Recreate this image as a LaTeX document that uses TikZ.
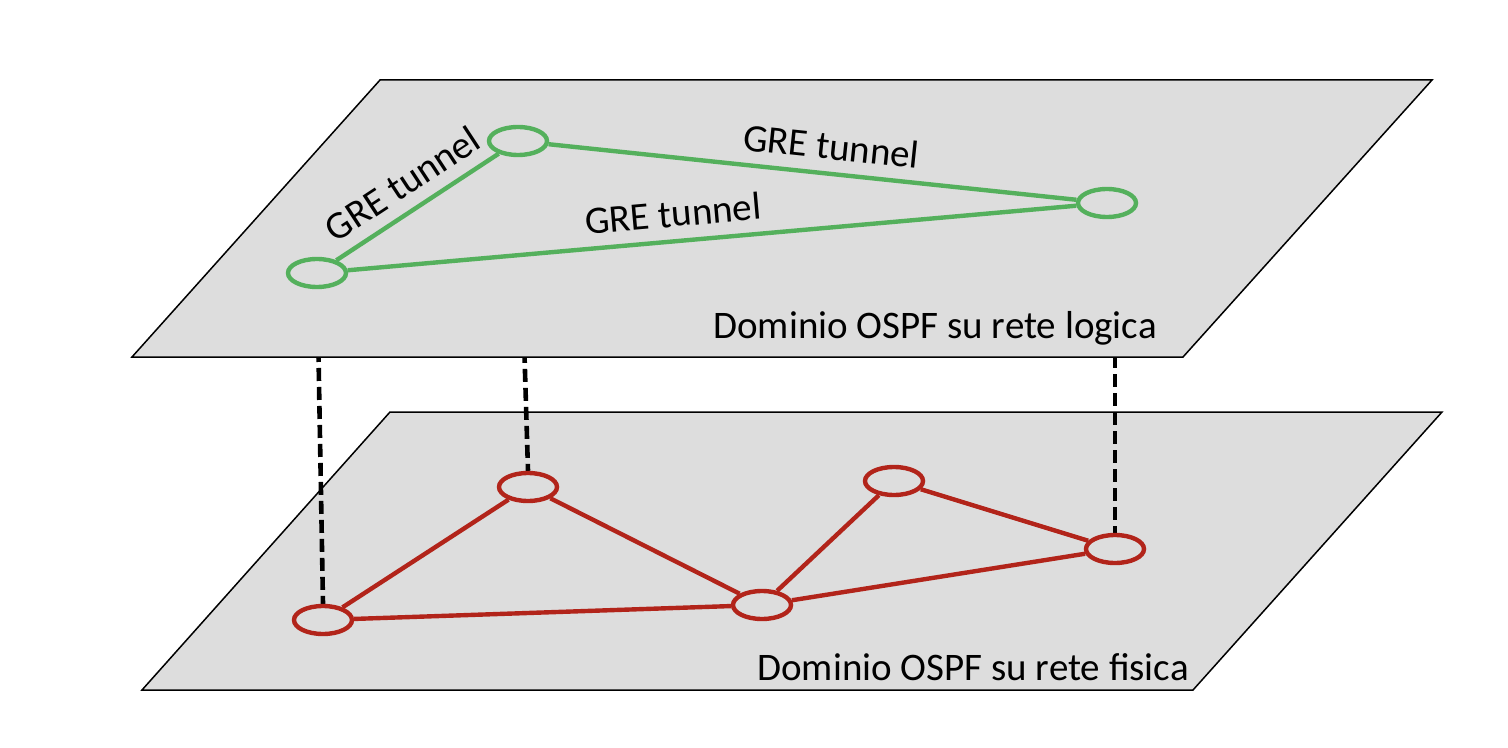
\documentclass[tikz,border=0pt]{standalone}
\usepackage{fontspec}
\setmainfont{Carlito}
\usetikzlibrary{shapes.geometric}
\pgfdeclarelayer{planeA}
\pgfdeclarelayer{dashes}
\pgfdeclarelayer{planeB}
\pgfsetlayers{planeA,dashes,planeB,main}
\definecolor{tgreen}{RGB}{84,176,92}
\definecolor{tred}{RGB}{178,36,26}
\definecolor{planegray}{RGB}{221,221,221}
\begin{document}
\begin{tikzpicture}[x=0.5pt,y=-0.5pt,
  planebox/.style={fill=planegray,draw=black,line width=0.75pt,line join=miter},
  router/.style={ellipse,line width=2.2pt,fill=planegray,minimum width=29pt,minimum height=14pt,inner sep=0pt},
  grouter/.style={router,draw=tgreen},
  rrouter/.style={router,draw=tred},
  glink/.style={draw=tgreen,line width=2.2pt},
  rlink/.style={draw=tred,line width=2.2pt},
  vlink/.style={draw=black,line width=2.3pt,dash pattern=on 6.5pt off 3pt},
  lbl/.style={font=\fontsize{19.5}{23}\selectfont,inner sep=2pt},
]
\useasboundingbox (0,0) rectangle (1508,748);

% green (logical) routers
\node[grouter] (g1) at (317,273) {};
\node[grouter] (g2) at (518,141) {};
\node[grouter] (g3) at (1107,203) {};
% red (physical) routers
\node[rrouter] (r1) at (323,620) {};
\node[rrouter] (r2) at (528,487) {};
\node[rrouter] (r3) at (762,605) {};
\node[rrouter] (r4) at (894,481) {};
\node[rrouter] (r5) at (1115,549) {};

% planes
\begin{pgfonlayer}{planeA}
  \path[planebox] (390,412) -- (1442,412) -- (1193,690) -- (142,690) -- cycle;
\end{pgfonlayer}
\begin{pgfonlayer}{planeB}
  \path[planebox] (380,80) -- (1432,80) -- (1183,357) -- (132,357) -- cycle;
\end{pgfonlayer}

% vertical dashed mappings
\begin{pgfonlayer}{dashes}
  \draw[vlink] (g1.center) -- (r1.north);
  \draw[vlink] (g2.center) -- (r2.north);
  \draw[vlink] (r5.north |- g3.center) -- (r5.north);
\end{pgfonlayer}

% logical links
\draw[glink] (g1) -- node[lbl,sloped,above=4pt,pos=0.5] {GRE tunnel} (g2);
\draw[glink] (g2) -- node[lbl,sloped,above=4pt,pos=0.53] {GRE tunnel} (g3);
\draw[glink] (g1) -- node[lbl,sloped,above=4pt,pos=0.45] {GRE tunnel} (g3);

% physical links
\draw[rlink] (r1) -- (r2);
\draw[rlink] (r1) -- (r3);
\draw[rlink] (r2) -- (r3);
\draw[rlink] (r3) -- (r4);
\draw[rlink] (r3) -- (r5);
\draw[rlink] (r4) -- (r5);

% plane labels
\node[lbl,anchor=base west,inner sep=0pt] (tl) at (713,338) {Dominio OSPF su rete logica};
\node[lbl,anchor=base west,inner sep=0pt] (bl) at (757,680) {Dominio OSPF su rete fisica};
\end{tikzpicture}
\end{document}
